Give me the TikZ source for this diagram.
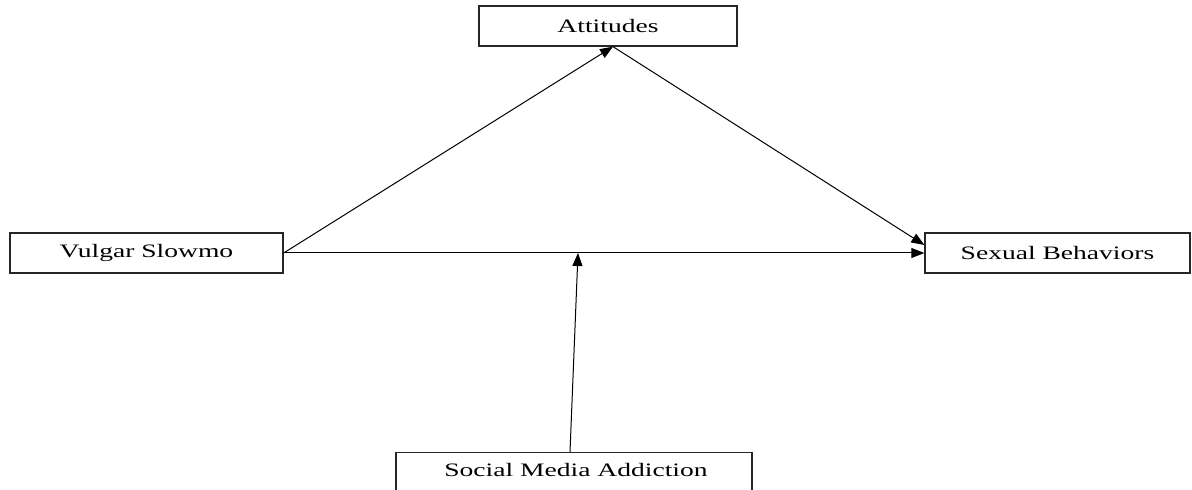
\documentclass[tikz,border=0pt]{standalone}
\usepackage{fontspec}
\setmainfont{Liberation Serif}
\usetikzlibrary{arrows.meta}
\begin{document}
\begin{tikzpicture}[x=1pt,y=1pt,
  box/.style={draw=black!85, line width=1.3pt, fill=white, inner sep=0pt, font=\fontsize{19}{22}\selectfont},
  arr/.style={draw=black, line width=1pt, -{Triangle[length=13pt,width=10pt]}},
  lbl/.style={inner sep=0pt, font=\fontsize{19}{22}\selectfont}]
\useasboundingbox (0,0) rectangle (1192,490);
\newcommand{\wide}[1]{\scalebox{1.45}[1]{#1}}
\node[box, minimum width=258, minimum height=40] (att) at (608,464) {\wide{Attitudes}};
\node[box, minimum width=273, minimum height=40] (vs) at (146.5,237) {\wide{Vulgar Slowmo}};
\node[box, minimum width=265, minimum height=40] (sb) at (1057.5,237) {\wide{Sexual Behaviors}};
\node[box, minimum width=356, minimum height=60, anchor=north] (sma) at (574,38) {};
\node[lbl] (smat) at (576,20) {\wide{Social Media Addiction}};
\coordinate (m) at (578,237);
\draw[arr] (vs.east) -- ([xshift=5pt]att.south);
\draw[arr] ([xshift=5pt]att.south) -- ([yshift=8pt]sb.west);
\draw[arr] (vs.east) -- (sb.west);
\draw[arr] ([xshift=-4pt]sma.north) -- (m);
\end{tikzpicture}
\end{document}
